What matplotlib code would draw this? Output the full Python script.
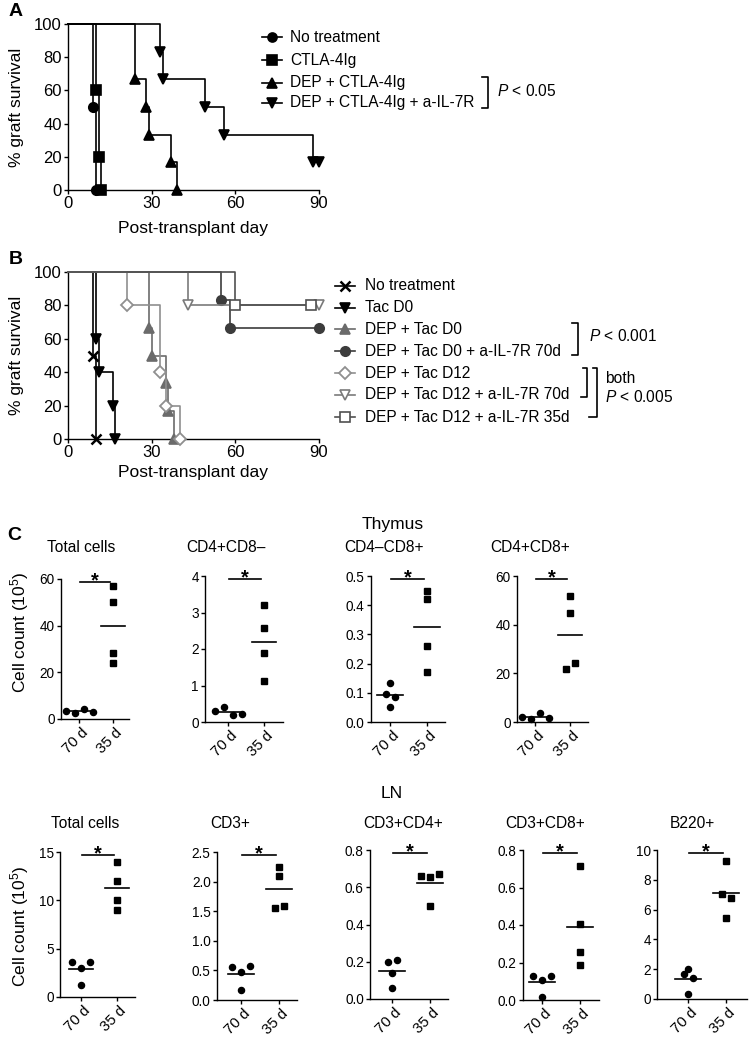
import numpy as np
import matplotlib
matplotlib.use("Agg")
import matplotlib.pyplot as plt
from matplotlib.lines import Line2D
from matplotlib.transforms import ScaledTranslation

plt.rcParams['font.family'] = ['Liberation Sans', 'DejaVu Sans']
plt.rcParams['mathtext.fontset'] = 'custom'
plt.rcParams['mathtext.rm'] = 'Liberation Sans'
plt.rcParams['mathtext.it'] = 'Liberation Sans:italic'
plt.rcParams['mathtext.bf'] = 'Liberation Sans:bold'
plt.rcParams['axes.linewidth'] = 1.0

# ------------------------- DATA -------------------------
# Panel A : graft survival (%), event days
a_labels = ["No treatment", "CTLA-4Ig", "DEP + CTLA-4Ig", "DEP + CTLA-4Ig + a-IL-7R"]
a_notreat_days = [9, 10]
a_notreat_surv = [50, 0]
a_ctla_days = [10, 11, 12]
a_ctla_surv = [60, 20, 0]
a_dep_ctla_days = [24, 28, 29, 37, 39]
a_dep_ctla_surv = [66.7, 50, 33.3, 16.7, 0]
a_dep_ctla_il7r_days = [33, 34, 49, 56, 88]
a_dep_ctla_il7r_surv = [83.3, 66.7, 50, 33.3, 16.7]
a_censor_end = [None, None, None, 90]
a_xticks = [0, 30, 60, 90]
a_yticks = [0, 20, 40, 60, 80, 100]

# Panel B
b_labels = ["No treatment", "Tac D0", "DEP + Tac D0", "DEP + Tac D0 + a-IL-7R 70d",
            "DEP + Tac D12", "DEP + Tac D12 + a-IL-7R 70d", "DEP + Tac D12 + a-IL-7R 35d"]
b_notreat_days = [9, 10]
b_notreat_surv = [50, 0]
b_tac0_days = [10, 11, 16, 17]
b_tac0_surv = [60, 40, 20, 0]
b_dep_tac0_days = [29, 30, 35, 36, 38]
b_dep_tac0_surv = [66.7, 50, 33.3, 16.7, 0]
b_dep_tac0_il7r70_days = [55, 58]
b_dep_tac0_il7r70_surv = [83.3, 66.7]
b_dep_tac12_days = [21, 33, 35, 40]
b_dep_tac12_surv = [80, 40, 20, 0]
b_dep_tac12_il7r70_days = [43]
b_dep_tac12_il7r70_surv = [80]
b_dep_tac12_il7r35_days = [60]
b_dep_tac12_il7r35_surv = [80]
b_censor_end = [None, None, None, 90, None, 90, 87]

# Panel C : cell counts (10^5)
c_groups = ["70 d", "35 d"]
thymus_titles = ["Total cells", "CD4+CD8\u2013", "CD4\u2013CD8+", "CD4+CD8+"]
thymus_70d = [[3.4, 2.7, 4.5, 3.0], [0.31, 0.42, 0.19, 0.22],
              [0.132, 0.096, 0.085, 0.053], [2.0, 1.2, 3.7, 1.8]]
thymus_35d = [[57.1, 50.1, 28.2, 24.2], [3.2, 2.57, 1.88, 1.12],
              [0.45, 0.42, 0.26, 0.17], [51.7, 44.8, 21.9, 24.4]]
thymus_ymax = [60, 4, 0.5, 60]
thymus_yticks = [[0, 20, 40, 60], [0, 1, 2, 3, 4],
                 [0, 0.1, 0.2, 0.3, 0.4, 0.5], [0, 20, 40, 60]]
thymus_yticklabels = [["0", "20", "40", "60"], ["0", "1", "2", "3", "4"],
                      ["0.0", "0.1", "0.2", "0.3", "0.4", "0.5"], ["0", "20", "40", "60"]]

ln_titles = ["Total cells", "CD3+", "CD3+CD4+", "CD3+CD8+", "B220+"]
ln_70d = [[3.6, 2.98, 3.6, 1.2], [0.55, 0.48, 0.57, 0.17], [0.199, 0.21, 0.137, 0.057],
          [0.129, 0.105, 0.129, 0.018], [1.66, 1.44, 2.04, 0.33]]
ln_35d = [[14.0, 12.0, 10.0, 9.0], [2.25, 2.09, 1.55, 1.59], [0.662, 0.654, 0.67, 0.50],
          [0.714, 0.404, 0.254, 0.187], [7.03, 9.29, 6.8, 5.42]]
ln_ymax = [15, 2.5, 0.8, 0.8, 10]
ln_yticks = [[0, 5, 10, 15], [0, 0.5, 1.0, 1.5, 2.0, 2.5], [0, 0.2, 0.4, 0.6, 0.8],
             [0, 0.2, 0.4, 0.6, 0.8], [0, 2, 4, 6, 8, 10]]
ln_yticklabels = [["0", "5", "10", "15"], ["0.0", "0.5", "1.0", "1.5", "2.0", "2.5"],
                  ["0.0", "0.2", "0.4", "0.6", "0.8"], ["0.0", "0.2", "0.4", "0.6", "0.8"],
                  ["0", "2", "4", "6", "8", "10"]]

# ------------------------- FIGURE -------------------------
W, H, DPI = 751, 1043, 100
fig = plt.figure(figsize=(W / DPI, H / DPI), dpi=DPI)


def fx(px):
    return px / W


def fy(py):
    return 1 - py / H


def axes_px(l, t, r, b):
    return fig.add_axes([l / W, 1 - b / H, (r - l) / W, (b - t) / H])


def style_axes(ax, fs, length=3.0, pad=1.5):
    for s in ('top', 'right'):
        ax.spines[s].set_visible(False)
    ax.tick_params(direction='out', length=length, width=1.0, labelsize=fs, pad=pad)


def km_curve(ax, days, surv, end_day, color, marker, mfc, ms, z, mew=1.2):
    xs = [0] + list(days) + [end_day if end_day is not None else days[-1]]
    ys = [100] + list(surv) + [surv[-1]]
    ax.step(xs, ys, where='post', color=color, lw=1.2, clip_on=False, zorder=z)
    mx = list(days) + ([end_day] if end_day is not None else [])
    my = list(surv) + ([surv[-1]] if end_day is not None else [])
    ax.plot(mx, my, ls='none', marker=marker, ms=ms, mfc=mfc, mec=color, mew=mew,
            color=color, clip_on=False, zorder=z + 0.5)


def legend_row(x0, x1, y, color, marker, mfc, ms, label, tx, fs, mew=1.2):
    fig.add_artist(Line2D([fx(x0), fx(x1)], [fy(y), fy(y)], transform=fig.transFigure,
                          color=color, lw=1.2))
    fig.add_artist(Line2D([fx((x0 + x1) / 2)], [fy(y)], transform=fig.transFigure, ls='none',
                          marker=marker, ms=ms, mfc=mfc, mec=color, mew=mew, color=color))
    fig.text(fx(tx), fy(y), label, fontsize=fs, va='center', ha='left')


def bracket(x, y_top, y_bot, tick_top, tick_bot):
    fig.add_artist(Line2D([fx(x - tick_top), fx(x), fx(x), fx(x - tick_bot)],
                          [fy(y_top), fy(y_top), fy(y_bot), fy(y_bot)],
                          transform=fig.transFigure, color='black', lw=1.2))


# ---------------- Panel A ----------------
axA = axes_px(68, 24, 319, 190)
style_axes(axA, 12)
axA.set_xlim(0, 90)
axA.set_ylim(0, 100)
axA.set_xticks(a_xticks)
axA.set_yticks(a_yticks)
a_series = [
    (a_notreat_days, a_notreat_surv, 'o', 'black'),
    (a_ctla_days, a_ctla_surv, 's', 'black'),
    (a_dep_ctla_days, a_dep_ctla_surv, '^', 'black'),
    (a_dep_ctla_il7r_days, a_dep_ctla_il7r_surv, 'v', 'black'),
]
for i, (d, s, m, mf) in enumerate(a_series):
    km_curve(axA, d, s, a_censor_end[i], 'black', m, mf, 6.8, 3 + i)
a_rows = [37, 60, 83, 103]
for i, (d, s, m, mf) in enumerate(a_series):
    legend_row(262, 282, a_rows[i], 'black', m, mf, 6.5, a_labels[i], 290, 11.2)
bracket(488, 77, 108, 6, 6)
fig.text(fx(497), fy(91), r"$P$ < 0.05", fontsize=11.2, va='center', ha='left')
fig.text(fx(17), fy(107), "% graft survival", rotation=90, fontsize=12.5, ha='center', va='center')
fig.text(fx(193.5), fy(228), "Post-transplant day", fontsize=12.5, ha='center', va='center')
fig.text(fx(16), fy(12), "A", fontsize=14, fontweight='bold', ha='center', va='center')

# ---------------- Panel B ----------------
axB = axes_px(68, 272, 319, 439)
style_axes(axB, 12)
axB.set_xlim(0, 90)
axB.set_ylim(0, 100)
axB.set_xticks(a_xticks)
axB.set_yticks(a_yticks)
b_series = [
    (b_notreat_days, b_notreat_surv, 'x', 'black', 'black', 6.5, 1.8),
    (b_tac0_days, b_tac0_surv, 'v', 'black', 'black', 6.8, 1.2),
    (b_dep_tac0_days, b_dep_tac0_surv, '^', '#6b6b6b', '#6b6b6b', 6.8, 1.2),
    (b_dep_tac0_il7r70_days, b_dep_tac0_il7r70_surv, 'o', '#3c3c3c', '#3c3c3c', 6.8, 1.2),
    (b_dep_tac12_days, b_dep_tac12_surv, 'D', '#8f8f8f', 'white', 6.0, 1.3),
    (b_dep_tac12_il7r70_days, b_dep_tac12_il7r70_surv, 'v', '#7a7a7a', 'white', 7.0, 1.2),
    (b_dep_tac12_il7r35_days, b_dep_tac12_il7r35_surv, 's', '#505050', 'white', 6.8, 1.2),
]
for i, (d, s, m, c, mf, ms, mew) in enumerate(b_series):
    km_curve(axB, d, s, b_censor_end[i], c, m, mf, ms, 3 + i, mew=mew)
b_rows = [286, 307.5, 329, 351, 373, 395, 417]
for i, (d, s, m, c, mf, ms, mew) in enumerate(b_series):
    legend_row(335, 355, b_rows[i], c, m, mf, ms, b_labels[i], 365, 11.2, mew=mew)
bracket(578, 323, 355, 6, 6)
fig.text(fx(589), fy(336), r"$P$ < 0.001", fontsize=11.2, va='center', ha='left')
bracket(587, 368, 397, 4, 6)
bracket(597, 368, 417, 4, 8)
fig.text(fx(605), fy(379), "both", fontsize=11.2, va='center', ha='left')
fig.text(fx(605), fy(397), r"$P$ < 0.005", fontsize=11.2, va='center', ha='left')
fig.text(fx(17), fy(355.5), "% graft survival", rotation=90, fontsize=12.5, ha='center', va='center')
fig.text(fx(193.5), fy(472), "Post-transplant day", fontsize=12.5, ha='center', va='center')
fig.text(fx(16), fy(259), "B", fontsize=14, fontweight='bold', ha='center', va='center')

# ---------------- Panel C ----------------
fig.text(fx(14), fy(536), "C", fontsize=14, fontweight='bold', ha='center', va='center')
fig.text(fx(393), fy(525), "Thymus", fontsize=12.5, ha='center', va='center')
fig.text(fx(392), fy(794), "LN", fontsize=12.5, ha='center', va='center')
fig.text(fx(20), fy(632), "Cell count (10$^5$)", rotation=90, fontsize=12.5, ha='center', va='center')
fig.text(fx(20), fy(926), "Cell count (10$^5$)", rotation=90, fontsize=12.5, ha='center', va='center')


def swarm_offsets(ax, values, xcenter, d_px=9.0, row_px=8.5):
    vals = np.asarray(values, float)
    pts = np.column_stack([np.full(len(vals), float(xcenter)), vals])
    ypx = ax.transData.transform(pts)[:, 1]
    order = np.argsort(vals, kind='stable')
    rows = []
    for i in order:
        if rows and abs(ypx[i] - ypx[rows[-1][0]]) < row_px:
            rows[-1].append(i)
        else:
            rows.append([i])
    unit = ax.transData.transform([[1, 0]])[0, 0] - ax.transData.transform([[0, 0]])[0, 0]
    off = np.zeros(len(vals))
    for r in rows:
        r_sorted = sorted(r)
        n = len(r_sorted)
        for k, i in enumerate(r_sorted):
            off[i] = (k - (n - 1) / 2) * d_px / unit
    return off


def dot_panel(layout, g70, g35, ymax, yt, ytl, title, title_xy):
    l, r, t0, t1, top, bot = layout
    ax = axes_px(l, top, r, bot)
    style_axes(ax, 9.8, length=3.0, pad=1.5)
    u = t1 - t0
    ax.set_xlim((l - t0) / u, (r - t0) / u)
    ax.set_ylim(0, ymax)
    ax.set_yticks(yt)
    ax.set_yticklabels(ytl)
    ax.set_xticks([0, 1])
    ax.set_xticklabels(c_groups, rotation=45, ha='right', va='center', rotation_mode='anchor',
                       fontsize=10.8)
    ax.tick_params(axis='x', pad=5)
    off_t = ScaledTranslation(7 / DPI, 0, fig.dpi_scale_trans)
    for lab in ax.get_xticklabels():
        lab.set_transform(lab.get_transform() + off_t)
    for pos, vals, marker, ms in [(0, g70, 'o', 4.4), (1, g35, 's', 4.0)]:
        off = swarm_offsets(ax, vals, pos)
        ax.plot(pos + off, vals, ls='none', marker=marker, ms=ms, color='black',
                clip_on=False, zorder=3)
        m = np.mean(vals)
        ax.plot([pos - 0.34, pos + 0.34], [m, m], color='black', lw=1.2, zorder=2)
    yb = 0.98 * ymax
    ax.plot([0.03, 0.92], [yb, yb], color='black', lw=1.2, clip_on=False)
    ax.annotate('*', xy=(0.475, yb), xytext=(0, -3.5), textcoords='offset points',
                ha='center', va='baseline', fontsize=14.5, fontweight='bold', annotation_clip=False)
    fig.text(fx(title_xy[0]), fy(title_xy[1]), title, fontsize=11.2, ha='center', va='center')
    return ax


thymus_layout = [(61, 129, 79, 113, 579, 719), (205, 283, 228, 264, 576, 722),
                 (371, 445, 390, 427, 576, 722), (517, 588, 535, 570, 576, 722)]
thymus_title_xy = [(81, 548), (226, 548), (384, 548), (530, 548)]
for i in range(4):
    dot_panel(thymus_layout[i], thymus_70d[i], thymus_35d[i], thymus_ymax[i],
              thymus_yticks[i], thymus_yticklabels[i], thymus_titles[i], thymus_title_xy[i])

ln_layout = [(60, 135, 81, 117, 852, 997), (217, 297, 241, 279, 852, 1000),
             (370, 448, 392, 430, 850, 999), (523, 599, 542, 580, 850, 1000),
             (657, 747, 688, 726, 850, 999)]
ln_title_xy = [(85, 823), (230, 823), (403, 823), (545, 823), (692, 823)]
for i in range(5):
    dot_panel(ln_layout[i], ln_70d[i], ln_35d[i], ln_ymax[i],
              ln_yticks[i], ln_yticklabels[i], ln_titles[i], ln_title_xy[i])

fig.savefig("out.png", dpi=DPI)
